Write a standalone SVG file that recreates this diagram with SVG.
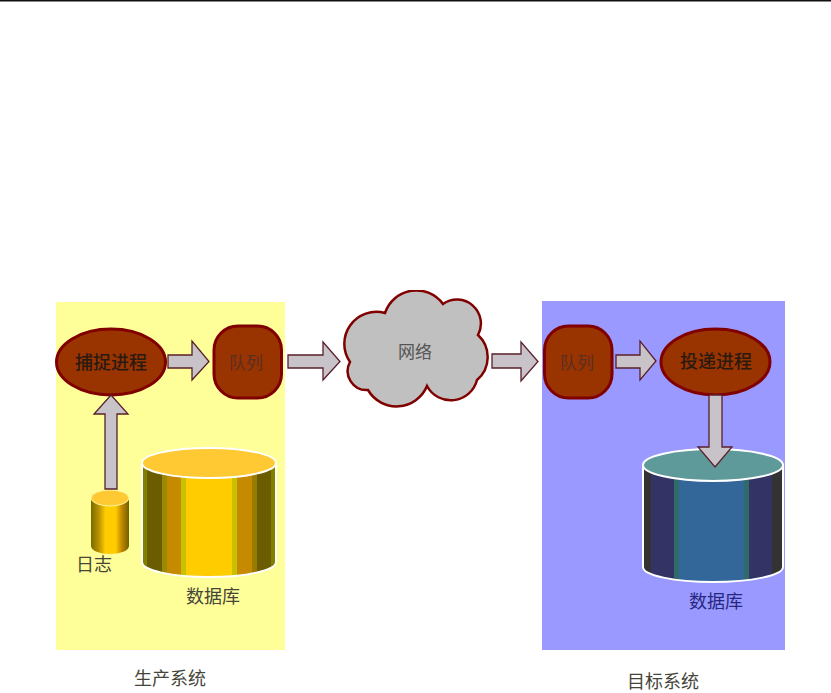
<svg xmlns="http://www.w3.org/2000/svg" width="831" height="693" viewBox="0 0 831 693">
<style>
text{font-family:"Noto Sans CJK SC","Liberation Sans",sans-serif;text-anchor:middle;dominant-baseline:central}
.proc{fill:#993300;stroke:#800000;stroke-width:3}
.arrow{fill:#c8c3c8;stroke:#5a1f2a;stroke-width:1.3}
.inner{fill:#2a1a10;font-weight:500}
.lbl{fill:#45453a}
</style>
<defs>
<linearGradient id="goldBody" x1="0" x2="1" y1="0" y2="0">
<stop offset="0" stop-color="#808000"/><stop offset=".04" stop-color="#808000"/><stop offset=".04" stop-color="#6b5c00"/><stop offset=".15" stop-color="#6b5c00"/><stop offset=".15" stop-color="#9a8a00"/><stop offset=".19" stop-color="#9a8a00"/><stop offset=".19" stop-color="#c68a00"/><stop offset=".29" stop-color="#c68a00"/><stop offset=".29" stop-color="#c9c000"/><stop offset=".33" stop-color="#c9c000"/><stop offset=".33" stop-color="#ffcc00"/><stop offset=".67" stop-color="#ffcc00"/><stop offset=".67" stop-color="#c9c000"/><stop offset=".71" stop-color="#c9c000"/><stop offset=".71" stop-color="#c68a00"/><stop offset=".82" stop-color="#c68a00"/><stop offset=".82" stop-color="#9a7a00"/><stop offset=".86" stop-color="#9a7a00"/><stop offset=".86" stop-color="#6b5c00"/><stop offset=".96" stop-color="#6b5c00"/><stop offset=".96" stop-color="#808000"/><stop offset="1" stop-color="#808000"/>
</linearGradient>
<linearGradient id="goldSmall" x1="0" x2="1" y1="0" y2="0">
<stop offset="0" stop-color="#7a6a00"/><stop offset=".2" stop-color="#b89000"/><stop offset=".38" stop-color="#ffcc00"/><stop offset=".65" stop-color="#ffcc00"/><stop offset=".8" stop-color="#c68a00"/><stop offset="1" stop-color="#6f5f00"/>
</linearGradient>
<linearGradient id="blueBody" x1="0" x2="1" y1="0" y2="0">
<stop offset="0" stop-color="#333333"/><stop offset=".06" stop-color="#333333"/><stop offset=".06" stop-color="#333366"/><stop offset=".22" stop-color="#333366"/><stop offset=".22" stop-color="#2f6b6b"/><stop offset=".26" stop-color="#2f6b6b"/><stop offset=".26" stop-color="#336699"/><stop offset=".72" stop-color="#336699"/><stop offset=".72" stop-color="#2f6b6b"/><stop offset=".755" stop-color="#2f6b6b"/><stop offset=".755" stop-color="#333366"/><stop offset=".92" stop-color="#333366"/><stop offset=".92" stop-color="#333333"/><stop offset="1" stop-color="#333333"/>
</linearGradient>
<clipPath id="cloudClip"><rect x="330" y="290" width="170" height="125"/></clipPath>
</defs>
<rect width="831" height="693" fill="#ffffff"/>
<rect x="0" y="0" width="831" height="1.500" fill="#111111"/>
<rect id="panel-source" x="56" y="302" width="229" height="348" fill="#ffff99"/>
<rect id="panel-target" x="542" y="301" width="243" height="349" fill="#9999ff"/>
<text x="170" y="677" font-size="18" class="lbl">生产系统</text>
<text x="663" y="680" font-size="18" class="lbl">目标系统</text>

<g id="log">
<path d="M91 498V546A19 8 0 0 0 129 546V498Z" fill="url(#goldSmall)"/>
<ellipse cx="110" cy="498" rx="19" ry="8" fill="#ffc933" stroke="#fff6a0" stroke-width="1"/>
<text x="94" y="563" font-size="18" class="lbl">日志</text>
</g>
<g id="db-source">
<path d="M142 463V562A67 15 0 0 0 276 562V463Z" fill="url(#goldBody)" stroke="#ffffff" stroke-width="2"/>
<ellipse cx="209" cy="463" rx="67" ry="15" fill="#ffc933" stroke="#ffffff" stroke-width="2"/>
<text x="213" y="595" font-size="18" class="lbl">数据库</text>
</g>
<g id="capture">
<ellipse cx="111" cy="362" rx="54.500" ry="33" class="proc"/>
<text x="111" y="361" font-size="18" class="inner">捕捉进程</text>
</g>
<g id="queue-source">
<rect x="214" y="326" width="67.500" height="72" rx="24" ry="24" class="proc"/>
<text x="246" y="361" font-size="17" fill="#5a3020">队列</text>
</g>
<g id="network">
<path clip-path="url(#cloudClip)" d="M385 313A33 33 0 0 1 443 304A24 24 0 0 1 478 335A30 30 0 0 1 477 380A27 27 0 0 1 427 386A33 33 0 0 1 368 390A19 19 0 0 1 350 362A32 32 0 0 1 385 313Z" fill="#c0c0c0" stroke="#800000" stroke-width="2.500"/>
<text x="415" y="350" font-size="17" fill="#555555">网络</text>
</g>
<g id="queue-target">
<rect x="544.500" y="326" width="67.500" height="72" rx="24" ry="24" class="proc"/>
<text x="577" y="361" font-size="17" fill="#5a3020">队列</text>
</g>
<g id="delivery">
<ellipse cx="715.500" cy="362" rx="54.500" ry="33" class="proc"/>
<text x="716" y="360" font-size="18" class="inner">投递进程</text>
</g>
<g id="db-target">
<path d="M643 465V567A70 15 0 0 0 783 567V465Z" fill="url(#blueBody)" stroke="#ffffff" stroke-width="2"/>
<ellipse cx="713" cy="465" rx="70" ry="16" fill="#5f9a9a" stroke="#ffffff" stroke-width="2"/>
<text x="716" y="600" font-size="18" fill="#27277f">数据库</text>
</g>
<g id="connectors">
<path class="arrow" d="M168 355H192V341L209 361.500L192 380V368H168Z"/>
<path class="arrow" d="M288 355H323V342L340 361.500L323 380V368H288Z"/>
<path class="arrow" d="M105 489V414H94L111 395L128 414H117V489Z"/>
<path class="arrow" d="M492 354H521V342L538 361.500L521 381V368H492Z"/>
<path class="arrow" d="M616 355H640V341L656 361L640 380V368H616Z"/>
<path class="arrow" d="M709 395V447H698L715 467L732 447H722V395Z"/>
</g>
</svg>
